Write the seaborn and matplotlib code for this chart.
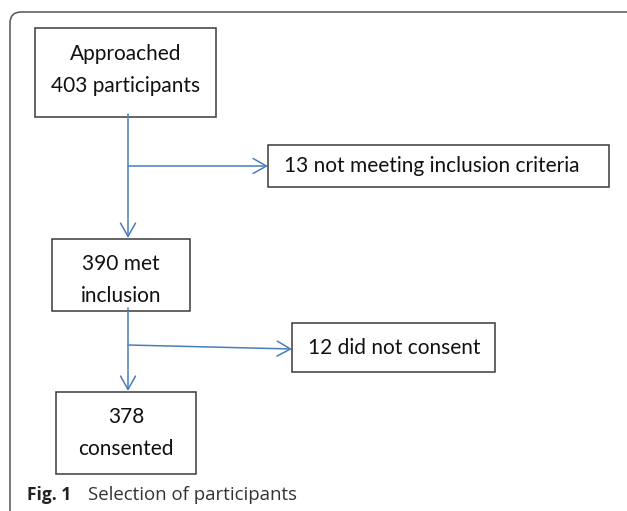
import matplotlib
matplotlib.use("Agg")
import matplotlib.pyplot as plt
import seaborn as sns
from matplotlib.patches import FancyBboxPatch, Rectangle, FancyArrowPatch

sns.set_theme(style="white")
plt.rcParams['font.family'] = ['Lato', 'DejaVu Sans']

# Flow data
stage_labels = ["Approached\n403 participants", "390 met\ninclusion", "378\nconsented"]
excluded_labels = ["13 not meeting inclusion criteria", "12 did not consent"]
caption_bold = "Fig. 1"
caption_text = "Selection of participants"

# layout (pixels)
main_boxes = [(35, 28, 181, 89), (52, 239, 138, 72), (56, 392, 140, 82)]
main_text_y = [70, 280, 433]
side_boxes = [(268, 145, 341, 42), (292, 323, 203, 49)]
trunk_x = 128
branch_y = [(166, 166), (345, 349)]

fig = plt.figure(figsize=(6.27, 5.11), dpi=100)
ax = fig.add_axes([0, 0, 1, 1])
ax.set_xlim(0, 627)
ax.set_ylim(511, 0)
ax.axis("off")

frame = FancyBboxPatch((10, 12), 700, 600, boxstyle="round,pad=0,rounding_size=11",
                       fill=False, ec="#555555", lw=1.1)
ax.add_patch(frame)

for (x, y, w, h), ty, lab in zip(main_boxes, main_text_y, stage_labels):
    ax.add_patch(Rectangle((x, y), w, h, fill=False, ec="#3a3a3a", lw=1.1))
    ax.text(x + w / 2, ty, lab, ha="center", va="center", fontsize=15,
            color="#111111", linespacing=1.7)

for (x, y, w, h), lab in zip(side_boxes, excluded_labels):
    ax.add_patch(Rectangle((x, y), w, h, fill=False, ec="#3a3a3a", lw=1.1))
    ax.text(x + 16, y + h / 2, lab, ha="left", va="center", fontsize=15, color="#111111")

blue = "#4a7ebb"
arrow_kw = dict(arrowstyle="->,head_length=0.8,head_width=0.45", color=blue, lw=1.1,
                shrinkA=0, shrinkB=0, mutation_scale=12)
# vertical arrows
for i in range(2):
    y0 = main_boxes[i][1] + main_boxes[i][3] - 3
    y1 = main_boxes[i + 1][1] - 1
    ax.add_patch(FancyArrowPatch((trunk_x, y0), (trunk_x, y1), **arrow_kw))
# horizontal arrows
for (ya, yb), (x, y, w, h) in zip(branch_y, side_boxes):
    ax.add_patch(FancyArrowPatch((trunk_x, ya), (x, yb), **arrow_kw))

ax.text(27, 495, caption_bold, ha="left", va="center", fontsize=12.5, fontweight="bold",
        color="#222222", family=["Open Sans", "DejaVu Sans"])
ax.text(88, 495, caption_text, ha="left", va="center", fontsize=13.4, color="#333333",
        family=["Open Sans", "DejaVu Sans"])

fig.savefig("out.png", dpi=100)
